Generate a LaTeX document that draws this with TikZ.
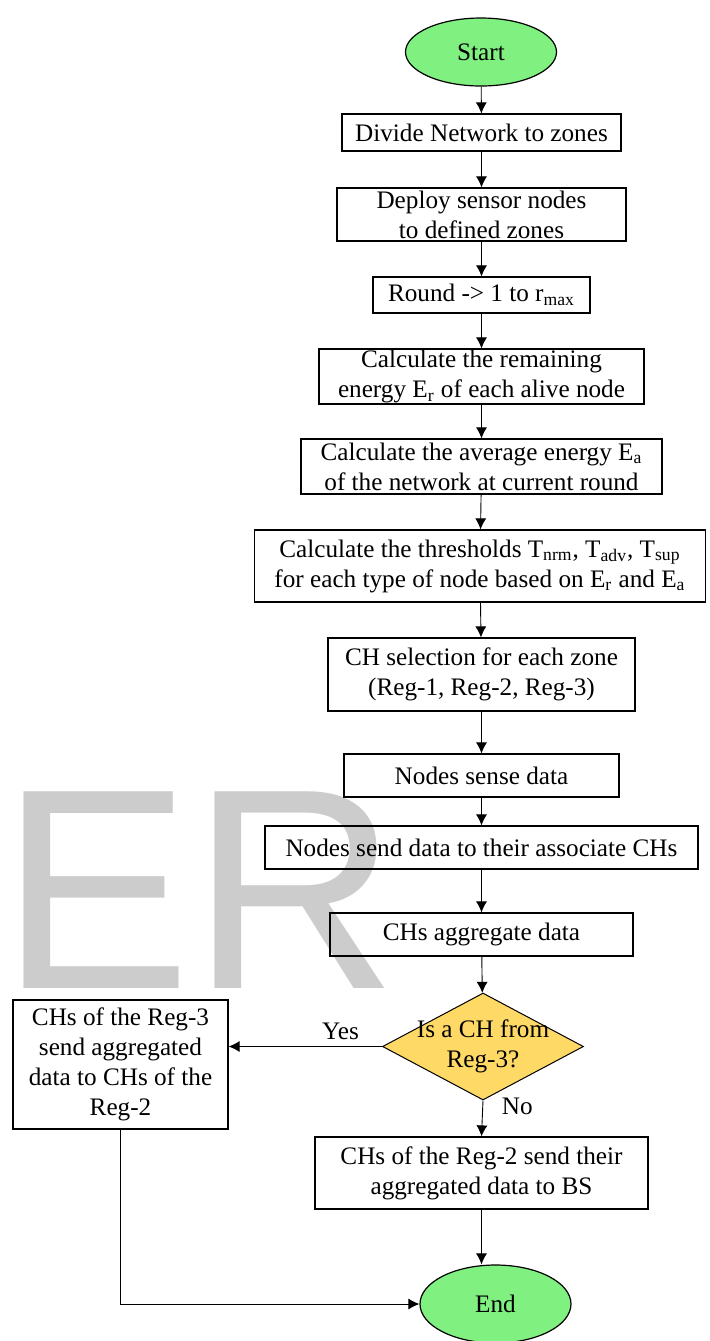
\documentclass[tikz,border=0pt]{standalone}
\usepackage{fontspec}
\setmainfont{Liberation Serif}
\newfontfamily\wmfont{Liberation Sans}
\usetikzlibrary{shapes.geometric,arrows.meta}

\definecolor{termgreen}{RGB}{128,240,128}
\definecolor{decideyellow}{RGB}{255,217,102}

\begin{document}
\begin{tikzpicture}[x=0.5pt, y=-0.5pt,
        every node/.style={font=\fontsize{12.6}{15}\selectfont},
        procbox/.style={draw, line width=0.6pt, rectangle, align=center, inner sep=0pt},
        terminal/.style={draw, line width=0.6pt, ellipse, fill=termgreen, inner sep=0pt,
            minimum width=75.5pt, minimum height=34pt},
        decision/.style={draw, line width=0.5pt, diamond, fill=decideyellow, inner sep=0pt,
            minimum width=100.5pt, minimum height=53.5pt},
        arr/.style={-{Latex[length=5.5pt,width=5.5pt]}, line width=0.45pt}]
                \useasboundingbox (0,0) rectangle (710,1341);

                \node[anchor=base west, inner sep=0pt, text=gray!40,
                    font=\wmfont\fontsize{143}{143}\selectfont] (wm) at (0,988) {ER};

                \node[terminal] (start) at (481,52) {Start};
                \node[procbox, minimum width=139.5pt, minimum height=18.5pt] (divide) at (481.5,132.5) {Divide Network to zones};
                \node[procbox, minimum width=144.5pt, minimum height=26.5pt] (deploy) at (481.5,214.5) {Deploy sensor nodes\\to defined zones};
                \node[procbox, minimum width=108.5pt, minimum height=18pt] (rounds) at (481.5,295) {Round -> 1 to r\textsubscript{max}};
                \node[procbox, minimum width=162.5pt, minimum height=27.5pt] (remain) at (481.5,376.5) {Calculate the remaining\\energy E\textsubscript{r} of each alive node};
                \node[procbox, minimum width=180.5pt, minimum height=27.5pt] (average) at (481.5,466.5) {Calculate the average energy E\textsubscript{a}\\of the network at current round};
                \node[procbox, minimum width=225.5pt, minimum height=36pt] (thresh) at (480,566) {Calculate the thresholds T\textsubscript{nrm}, T\textsubscript{adv}, T\textsubscript{sup}\\for each type of node based on E\textsubscript{r} and E\textsubscript{a}};
                \node[procbox, minimum width=153.5pt, minimum height=36.5pt] (chsel) at (481.5,674.5) {CH selection for each zone\\(Reg-1, Reg-2, Reg-3)};
                \node[procbox, minimum width=137.5pt, minimum height=21.5pt] (sense) at (481.5,775.5) {Nodes sense data};
                \node[procbox, minimum width=216.5pt, minimum height=21.5pt] (send) at (481.5,847.5) {Nodes send data to their associate CHs};
                \node[procbox, minimum width=151.5pt, minimum height=21.5pt] (aggr) at (481.5,934.5) {CHs aggregate data};
                \node[decision] (decide) at (483,1046.5) {\makebox[0pt]{\smash{\raisebox{-3pt}{\begin{tabular}{@{}c@{}}Is a CH from\\Reg-3?\end{tabular}}}}};
                \node[procbox, minimum width=107.5pt, minimum height=64.5pt] (regthree) at (120.5,1064.5) {CHs of the Reg-3\\send aggregated\\data to CHs of the\\Reg-2};
                \node[procbox, minimum width=166.5pt, minimum height=36pt] (regtwo) at (481.5,1173) {CHs of the Reg-2 send their\\aggregated data to BS};
                \node[terminal, minimum height=39pt] (stop) at (495.5,1304) {End};

                \draw[arr] (start) -- (divide);
                \draw[arr] (divide) -- (deploy);
                \draw[arr] (deploy) -- (rounds);
                \draw[arr] (rounds) -- (remain);
                \draw[arr] (remain) -- (average);
                \draw[arr] (average) -- (thresh);
                \draw[arr] (thresh) -- (chsel);
                \draw[arr] (chsel) -- (sense);
                \draw[arr] (sense) -- (send);
                \draw[arr] (send) -- (aggr);
                \draw[arr] (aggr) -- (decide);
                \draw[arr] (decide.west) -- node[pos=0.27, above]{Yes} (decide.west -| regthree.east);
                \draw[arr] (decide.south) -- node[pos=0.15, anchor=west, xshift=6pt]{No} (regtwo.north);
                \draw[arr] (regtwo.south) -- (regtwo.south |- stop.north);
                \draw[arr] (regthree.south) |- (stop.west);
            \end{tikzpicture}
\end{document}
